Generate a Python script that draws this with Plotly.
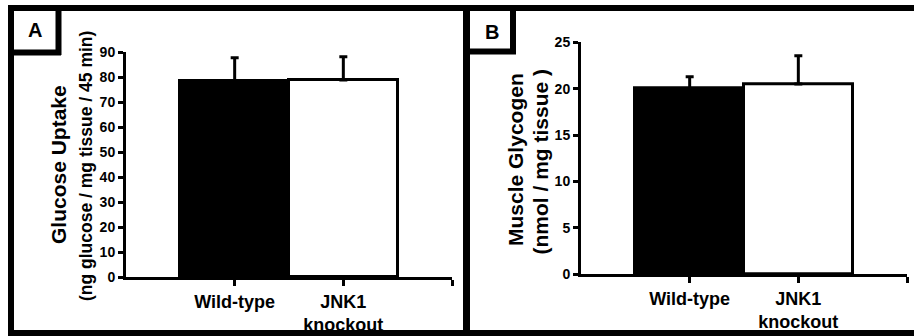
import plotly.graph_objects as go

W, H = 914, 336

# ---- data ----
categories = ["Wild-type", "JNK1<br>knockout"]
glucose_uptake = [78.3, 78.8]
glucose_err = [9.4, 9.3]
glycogen = [20.0, 20.5]
glycogen_err = [1.3, 3.05]
y_ticks_a = [0, 10, 20, 30, 40, 50, 60, 70, 80, 90]
y_ticks_b = [0, 5, 10, 15, 20, 25]
bar_colors = ["black", "white"]
bar_pos = [1, 2]

FONT = "Liberation Sans, Arial, sans-serif"

def px(x):
    return x / W

def py(y):
    return 1 - y / H

fig = go.Figure()

for data, err, xa, ya in [(glucose_uptake, glucose_err, "x", "y"),
                          (glycogen, glycogen_err, "x2", "y2")]:
    fig.add_trace(go.Bar(
        x=bar_pos, y=data, width=1.0,
        marker=dict(color=bar_colors, line=dict(color="black", width=3)),
        error_y=dict(type="data", array=err, arrayminus=[0, 0], symmetric=False,
                     color="black", thickness=3, width=4),
        xaxis=xa, yaxis=ya, showlegend=False, hoverinfo="skip",
    ))

xcommon = dict(range=[0, 3], tickvals=[1, 2, 3], ticktext=categories + [""],
               showline=True, linecolor="black", linewidth=3, ticks="outside",
               ticklen=6, tickwidth=3, tickcolor="black", showgrid=False,
               zeroline=False, fixedrange=True, automargin=False,
               tickfont=dict(family=FONT, size=18, color="black", weight="bold"))
ycommon = dict(showline=True, linecolor="black", linewidth=3, ticks="outside",
               ticklen=5, tickwidth=3, tickcolor="black", showgrid=False,
               zeroline=False, fixedrange=True, automargin=False,
               tickfont=dict(family=FONT, size=14, color="black", weight="bold"))

fig.update_layout(
    template="none",
    width=W, height=H,
    margin=dict(l=0, r=0, t=0, b=0, pad=0),
    paper_bgcolor="white", plot_bgcolor="white",
    bargap=0,
    xaxis=dict(domain=[px(126), px(452)], anchor="y", **xcommon),
    yaxis=dict(domain=[py(277), py(52)], anchor="x", range=[0, 90],
               tickvals=y_ticks_a, **ycommon),
    xaxis2=dict(domain=[px(581), px(907)], anchor="y2", **xcommon),
    yaxis2=dict(domain=[py(274.3), py(42.3)], anchor="x2", range=[0, 25],
                tickvals=y_ticks_b, **ycommon),
)

# ---- frame lines ----
shapes = []
def line(x0, y0, x1, y1, w):
    shapes.append(dict(type="line", xref="paper", yref="paper",
                       x0=px(x0), y0=py(y0), x1=px(x1), y1=py(y1),
                       line=dict(color="black", width=w)))

line(8, 8, 914, 8, 6)       # top
line(11, 5, 11, 336, 6)     # left
line(8, 333, 914, 333, 6)   # bottom
line(466.5, 5, 466.5, 336, 7)  # divider
# label box A
line(58.5, 8, 58.5, 55, 6)
line(11, 52.5, 61, 52.5, 6)
# label box B
line(513, 8, 513, 54, 6)
line(466, 51.5, 516, 51.5, 6)
fig.update_layout(shapes=shapes)

# ---- annotations ----
ann = []
def text(x, y, t, size, angle=0):
    ann.append(dict(xref="paper", yref="paper", x=px(x), y=py(y), text=t,
                    showarrow=False, xanchor="center", yanchor="middle",
                    textangle=angle,
                    font=dict(family=FONT, size=size, color="black", weight="bold")))

text(34.5, 30, "A", 20)
text(492, 31.5, "B", 20)
text(58, 165, "Glucose Uptake", 21, -90)
text(86, 166, "(ng glucose / mg tissue / 45 min)", 17.5, -90)
text(515, 160, "Muscle Glycogen", 21, -90)
text(540, 161.5, "(nmol / mg tissue )", 21, -90)
fig.update_layout(annotations=ann)

fig.write_html("out.html", config={"displayModeBar": False},
               post_script="document.body.style.margin='0';document.body.style.overflow='hidden';")
